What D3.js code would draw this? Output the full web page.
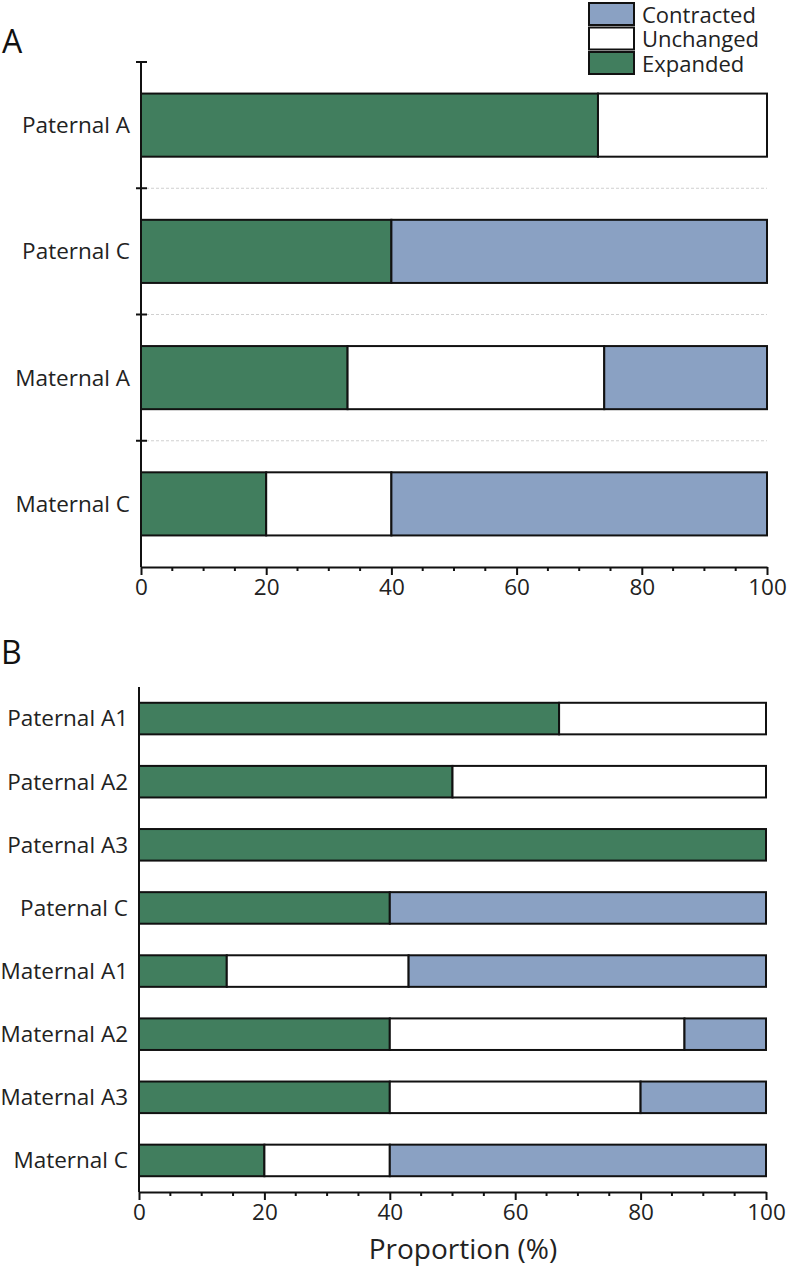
<!DOCTYPE html>
<html>
<head>
<meta charset="utf-8">
<script src="https://cdn.jsdelivr.net/npm/d3@7"></script>
<style>
	body { margin: 0; background: #fff; }
	svg { display: block; font-family: 'Open Sans', 'Noto Sans', sans-serif; }
</style>
</head>
<body>
<div id="chart"></div>
<script>
// panel A
const catsA = ['Paternal A', 'Paternal C', 'Maternal A', 'Maternal C']
const expandedA = [73, 40, 33, 20]
const unchangedA = [27, 0, 41, 20]
const contractedA = [0, 60, 26, 60]

// panel B
const catsB = ['Paternal A1', 'Paternal A2', 'Paternal A3', 'Paternal C', 'Maternal A1', 'Maternal A2', 'Maternal A3', 'Maternal C']
const expandedB = [67, 50, 100, 40, 14, 40, 40, 20]
const unchangedB = [33, 50, 0, 0, 29, 47, 40, 20]
const contractedB = [0, 0, 0, 60, 57, 13, 20, 60]

const keys = ['expanded', 'unchanged', 'contracted']
const legendKeys = ['Contracted', 'Unchanged', 'Expanded']
const xTicks = [0, 20, 40, 60, 80, 100]

const width = 787
const height = 1269

const color = d3.scaleOrdinal()
	.domain(keys)
	.range(['#417e5e', '#ffffff', '#8aa1c3'])

const svg = d3.select('#chart').append('svg')
	.attr('width', width)
	.attr('height', height)

function drawPanel(opts) {
	const rows = opts.cats.map((c, i) => ({
		cat: c,
		expanded: opts.expanded[i],
		unchanged: opts.unchanged[i],
		contracted: opts.contracted[i],
	}))
	const series = d3.stack().keys(keys)(rows)

	const x = d3.scaleLinear().domain([0, 100]).range([opts.x0, opts.x1])
	const y = d3.scaleBand().domain(opts.cats).range([opts.y0, opts.y1]).padding(0.5).paddingOuter(0.25)

	const g = svg.append('g')

	// dashed separators + ticks between categories (panel A only)
	if (opts.grid) {
		const bounds = opts.cats.slice(1).map(c => y(c) - y.step() * 0.25)
		g.selectAll('.grid').data(bounds).enter()
			.append('line')
			.attr('x1', opts.x0).attr('x2', opts.x1)
			.attr('y1', d => d).attr('y2', d => d)
			.attr('stroke', '#d0d0d0')
			.attr('stroke-width', 1)
			.attr('stroke-dasharray', '3,2')
		g.selectAll('.ytick').data([opts.y0].concat(bounds)).enter()
			.append('line')
			.attr('x1', opts.x0 - 5).attr('x2', opts.x0 + 6)
			.attr('y1', d => d).attr('y2', d => d)
			.attr('stroke', '#111').attr('stroke-width', 2)
	}

	// bars
	series.forEach(s => {
		g.selectAll(`.bar-${s.key}`).data(s.filter(d => d[1] > d[0])).enter()
			.append('rect')
			.attr('x', d => x(d[0]))
			.attr('width', d => x(d[1]) - x(d[0]))
			.attr('y', d => y(d.data.cat))
			.attr('height', y.bandwidth())
			.attr('fill', color(s.key))
			.attr('stroke', '#111')
			.attr('stroke-width', 2)
	})

	// category labels
	g.selectAll('.cat').data(opts.cats).enter()
		.append('text')
		.attr('x', opts.x0 - 11)
		.attr('y', d => y(d) + y.bandwidth() / 2)
		.attr('dy', '0.35em')
		.attr('text-anchor', 'end')
		.attr('font-size', 22.5)
		.attr('fill', '#222')
		.text(d => d)

	// y axis line
	g.append('line')
		.attr('x1', opts.x0).attr('x2', opts.x0)
		.attr('y1', opts.y0).attr('y2', opts.y1)
		.attr('stroke', '#111').attr('stroke-width', 2)

	// x axis, minor ticks first
	const minor = d3.range(0, 101, 5).filter(v => v % 20 !== 0)
	g.selectAll('.minor').data(minor).enter()
		.append('line')
		.attr('x1', d => x(d)).attr('x2', d => x(d))
		.attr('y1', opts.y1).attr('y2', opts.y1 + 4)
		.attr('stroke', '#111').attr('stroke-width', 2)

	const axis = g.append('g')
		.attr('transform', `translate(0,${opts.y1})`)
		.call(d3.axisBottom(x).tickValues(xTicks).tickSize(8).tickPadding(4).tickSizeOuter(0))
	axis.attr('font-size', null).attr('font-family', null)
	axis.select('.domain').attr('stroke', '#111').attr('stroke-width', 2)
	axis.selectAll('.tick line').attr('stroke', '#111').attr('stroke-width', 2)
	axis.selectAll('.tick text')
		.attr('font-size', 22.5)
		.attr('fill', '#222')

	// panel letter
	svg.append('text')
		.attr('x', opts.letterX)
		.attr('y', opts.letterY)
		.attr('font-size', 32)
		.attr('fill', '#111')
		.text(opts.letter)
}

drawPanel({
	cats: catsA, expanded: expandedA, unchanged: unchangedA, contracted: contractedA,
	x0: 141, x1: 767, y0: 62, y1: 567, grid: true,
	letter: 'A', letterX: 2, letterY: 53,
})

drawPanel({
	cats: catsB, expanded: expandedB, unchanged: unchangedB, contracted: contractedB,
	x0: 139, x1: 766, y0: 687, y1: 1192, grid: false,
	letter: 'B', letterX: 1, letterY: 664,
})

// legend
const legend = svg.append('g').attr('transform', 'translate(589,3)')
const legendColor = { Contracted: color('contracted'), Unchanged: color('unchanged'), Expanded: color('expanded') }
legendKeys.forEach((k, i) => {
	legend.append('rect')
		.attr('x', 0).attr('y', i * 24.5)
		.attr('width', 45).attr('height', 22)
		.attr('fill', legendColor[k])
		.attr('stroke', '#111').attr('stroke-width', 2)
	legend.append('text')
		.attr('x', 53).attr('y', i * 24.5 + 12)
		.attr('dy', '0.35em')
		.attr('font-size', 22)
		.attr('fill', '#222')
		.text(k)
})

// x title
svg.append('text')
	.attr('x', 463)
	.attr('y', 1259)
	.attr('text-anchor', 'middle')
	.attr('font-size', 28)
	.attr('fill', '#222')
	.text('Proportion (%)')
</script>
</body>
</html>
